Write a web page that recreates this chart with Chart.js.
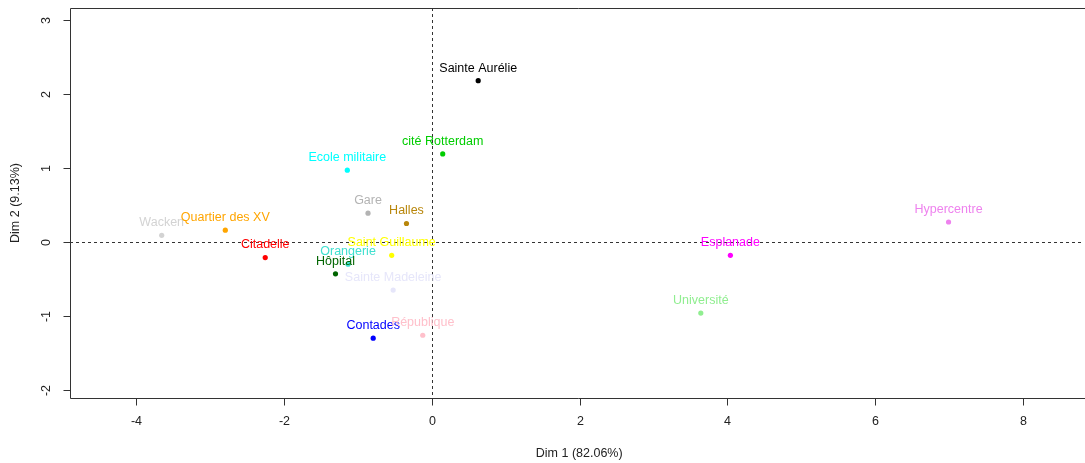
<!DOCTYPE html>
<html>
<head>
<meta charset="utf-8">
<script src="https://cdn.jsdelivr.net/npm/chart.js@4"></script>
<style>
html,body{margin:0;padding:0;background:#fff;overflow:hidden;}
canvas{display:block;}
</style>
</head>
<body>
<canvas id="c" width="1085" height="463"></canvas>
<script>
const names = ["Sainte Aurélie","cité Rotterdam","Ecole militaire","Gare","Halles","Wacken","Quartier des XV","Citadelle","Saint Guillaume","Orangerie","Hôpital","Sainte Madeleine","Contades","République","Esplanade","Hypercentre","Université"];
const dim1 = [0.63,0.15,-1.14,-0.86,-0.34,-3.65,-2.79,-2.25,-0.54,-1.13,-1.30,-0.52,-0.79,-0.12,4.04,6.99,3.64];
const dim2 = [2.18,1.19,0.97,0.39,0.25,0.09,0.16,-0.21,-0.18,-0.30,-0.43,-0.65,-1.30,-1.26,-0.18,0.27,-0.96];
const colors = ["#000000","#00CD00","#00FFFF","#B3B3B3","#B8860B","#D3D3D3","#FFA500","#FF0000","#FFFF00","#40E0D0","#006400","#E6E6FA","#0000FF","#FFC0CB","#FF00FF","#EE82EE","#90EE90"];
const xTicks = [-4,-2,0,2,4,6,8];
const yTicks = [-2,-1,0,1,2,3];
const xTitle = "Dim 1 (82.06%)";
const yTitle = "Dim 2 (9.13%)";

const FONT = '12.5px "Liberation Sans", Arial, sans-serif';
const AXC = '#333333';

const rPlot = {
  id: 'rPlot',
  beforeDatasetsDraw(chart) {
    const {ctx, chartArea: a, scales: {x, y}} = chart;
    ctx.save();
    ctx.strokeStyle = AXC; ctx.lineWidth = 1; ctx.setLineDash([3,3]);
    const x0 = Math.round(x.getPixelForValue(0)) + 0.5;
    const y0 = Math.round(y.getPixelForValue(0)) + 0.5;
    ctx.beginPath(); ctx.moveTo(x0, a.top); ctx.lineTo(x0, a.bottom); ctx.stroke();
    ctx.beginPath(); ctx.moveTo(a.left, y0); ctx.lineTo(a.right, y0); ctx.stroke();
    ctx.restore();
  },
  afterDatasetsDraw(chart) {
    const {ctx, chartArea: a, scales: {x, y}} = chart;
    ctx.save();
    ctx.font = FONT; ctx.textAlign = 'center'; ctx.textBaseline = 'middle';
    names.forEach((n, i) => {
      ctx.fillStyle = colors[i];
      ctx.fillText(n, x.getPixelForValue(dim1[i]), y.getPixelForValue(dim2[i]) - 12.5);
    });
    ctx.strokeStyle = AXC; ctx.lineWidth = 1; ctx.setLineDash([]);
    const L = Math.round(a.left) + 0.5, T = Math.round(a.top) + 0.5, B = Math.round(a.bottom) + 0.5, R = a.right + 5;
    ctx.beginPath(); ctx.moveTo(R, T); ctx.lineTo(L, T); ctx.lineTo(L, B); ctx.lineTo(R, B); ctx.stroke();
    ctx.fillStyle = '#222';
    xTicks.forEach(v => {
      const px = Math.round(x.getPixelForValue(v)) + 0.5;
      ctx.beginPath(); ctx.moveTo(px, B); ctx.lineTo(px, B + 7); ctx.stroke();
      ctx.textAlign = 'center'; ctx.textBaseline = 'middle';
      ctx.fillText(String(v), px, 422);
    });
    yTicks.forEach(v => {
      const py = Math.round(y.getPixelForValue(v)) + 0.5;
      ctx.beginPath(); ctx.moveTo(L, py); ctx.lineTo(L - 7, py); ctx.stroke();
      ctx.save(); ctx.translate(47, py); ctx.rotate(-Math.PI/2);
      ctx.textAlign = 'center'; ctx.textBaseline = 'middle';
      ctx.fillText(String(v), 0, 0); ctx.restore();
    });
    ctx.textAlign = 'center'; ctx.textBaseline = 'middle';
    ctx.fillText(xTitle, (x.getPixelForValue(-4.89) + x.getPixelForValue(8.8)) / 2 + 3, 454);
    ctx.save(); ctx.translate(16, (a.top + a.bottom) / 2); ctx.rotate(-Math.PI/2);
    ctx.fillText(yTitle, 0, 0); ctx.restore();
    ctx.restore();
  }
};

new Chart(document.getElementById('c'), {
  type: 'scatter',
  data: {
    datasets: [{
      data: dim1.map((v, i) => ({x: v, y: dim2[i]})),
      backgroundColor: colors,
      borderColor: colors,
      pointRadius: 2.6,
      pointBorderWidth: 0,
      pointHoverRadius: 2.6
    }]
  },
  options: {
    responsive: false,
    animation: false,
    events: [],
    layout: {padding: {left: 70, top: 8, right: 0, bottom: 65}},
    plugins: {legend: {display: false}, tooltip: {enabled: false}},
    scales: {
      x: {type: 'linear', display: false, min: -4.89, max: 8.8},
      y: {type: 'linear', display: false, min: -2.108, max: 3.162}
    }
  },
  plugins: [rPlot]
});
</script>
</body>
</html>
